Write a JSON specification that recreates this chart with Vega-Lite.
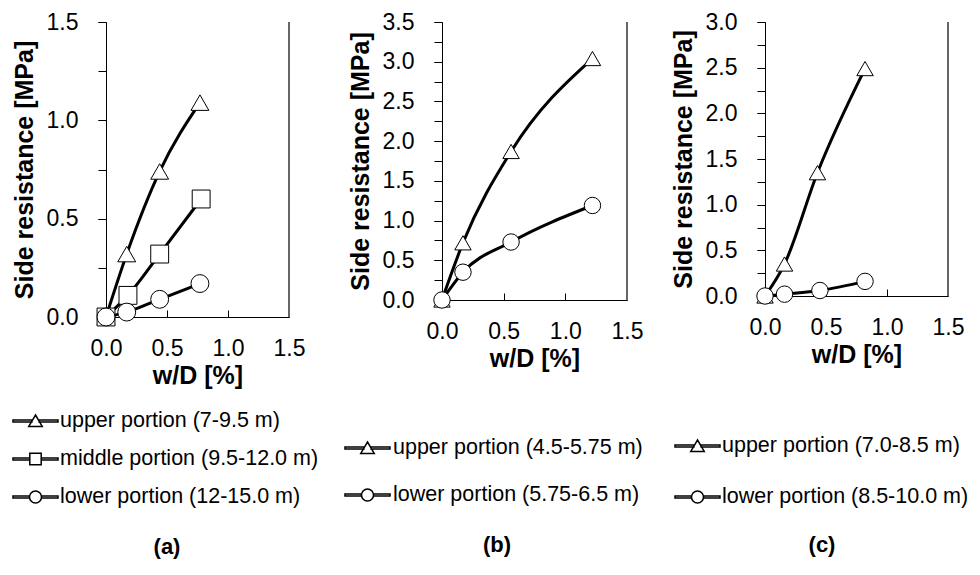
{
  "$schema": "https://vega.github.io/schema/vega-lite/v6.json",
  "background": "white",
  "padding": {"left": 12, "top": 11, "right": 5, "bottom": 5},
  "datasets": {
    "d": [
      {"panel": "a", "series": "upper portion (7-9.5 m)", "x": 0, "y": 0},
      {"panel": "a", "series": "upper portion (7-9.5 m)", "x": 0.17, "y": 0.32},
      {"panel": "a", "series": "upper portion (7-9.5 m)", "x": 0.44, "y": 0.74},
      {"panel": "a", "series": "upper portion (7-9.5 m)", "x": 0.77, "y": 1.09},
      {"panel": "a", "series": "middle portion (9.5-12.0 m)", "x": 0, "y": 0},
      {"panel": "a", "series": "middle portion (9.5-12.0 m)", "x": 0.18, "y": 0.11},
      {"panel": "a", "series": "middle portion (9.5-12.0 m)", "x": 0.44, "y": 0.32},
      {"panel": "a", "series": "middle portion (9.5-12.0 m)", "x": 0.78, "y": 0.6},
      {"panel": "a", "series": "lower portion (12-15.0 m)", "x": 0, "y": 0},
      {"panel": "a", "series": "lower portion (12-15.0 m)", "x": 0.17, "y": 0.025},
      {"panel": "a", "series": "lower portion (12-15.0 m)", "x": 0.44, "y": 0.09},
      {"panel": "a", "series": "lower portion (12-15.0 m)", "x": 0.77, "y": 0.17},
      {"panel": "b", "series": "upper portion (4.5-5.75 m)", "x": 0, "y": 0},
      {"panel": "b", "series": "upper portion (4.5-5.75 m)", "x": 0.17, "y": 0.72},
      {"panel": "b", "series": "upper portion (4.5-5.75 m)", "x": 0.56, "y": 1.87},
      {"panel": "b", "series": "upper portion (4.5-5.75 m)", "x": 1.22, "y": 3.04},
      {"panel": "b", "series": "lower portion (5.75-6.5 m)", "x": 0, "y": 0},
      {"panel": "b", "series": "lower portion (5.75-6.5 m)", "x": 0.17, "y": 0.35},
      {"panel": "b", "series": "lower portion (5.75-6.5 m)", "x": 0.56, "y": 0.73},
      {"panel": "b", "series": "lower portion (5.75-6.5 m)", "x": 1.22, "y": 1.19},
      {"panel": "c", "series": "upper portion (7.0-8.5 m)", "x": 0, "y": 0},
      {"panel": "c", "series": "upper portion (7.0-8.5 m)", "x": 0.16, "y": 0.35},
      {"panel": "c", "series": "upper portion (7.0-8.5 m)", "x": 0.43, "y": 1.35},
      {"panel": "c", "series": "upper portion (7.0-8.5 m)", "x": 0.82, "y": 2.49},
      {"panel": "c", "series": "lower portion (8.5-10.0 m)", "x": 0, "y": 0},
      {"panel": "c", "series": "lower portion (8.5-10.0 m)", "x": 0.16, "y": 0.02},
      {"panel": "c", "series": "lower portion (8.5-10.0 m)", "x": 0.45, "y": 0.06},
      {"panel": "c", "series": "lower portion (8.5-10.0 m)", "x": 0.82, "y": 0.16}
    ]
  },
  "spacing": 153,
  "bounds": "flush",
  "hconcat": [
    {
      "width": 183,
      "height": 295,
      "data": {"name": "d"},
      "transform": [{"filter": "datum.panel === 'a'"}],
      "title": {"text": "(a)", "orient": "bottom", "anchor": "middle", "frame": "group", "fontSize": 22, "fontWeight": "bold", "font": "Liberation Sans", "color": "black", "offset": 29, "dx": -30.5, "baseline": "top"},
      "resolve": {"scale": {"shape": "independent"}, "axis": {"y": "independent"}},
      "layer": [
        {
          "mark": {"type": "rule", "color": "#666666", "strokeWidth": 1},
          "encoding": {"x": {"datum": 1.5, "type": "quantitative"}}
        },
        {
          "mark": {"type": "line", "color": "black", "strokeWidth": 3, "interpolate": "monotone"},
          "encoding": {
            "x": {"field": "x", "type": "quantitative", "scale": {"domain": [0, 1.5], "nice": false},
              "axis": {"title": "w/D [%]", "values": [0, 0.25, 0.5, 0.75, 1, 1.25, 1.5], "labelExpr": "datum.value % 0.5 === 0 ? format(datum.value, '.1f') : ''", "labelFlush": false, "labelOverlap": false, "tickSize": -7, "labelPadding": 27, "titlePadding": 3}},
            "y": {"field": "y", "type": "quantitative", "scale": {"domain": [0, 1.5], "nice": false},
              "axis": {"title": "Side resistance [MPa]", "orient": "left", "values": [0, 0.5, 1, 1.5], "format": ".1f", "labelOverlap": false, "tickSize": 8, "labelPadding": 20, "titlePadding": 9}},
            "detail": {"field": "series"}
          }
        },
        {
          "mark": {"type": "point", "filled": true, "fill": "white", "stroke": "black", "strokeWidth": 1, "opacity": 1, "size": 320},
          "encoding": {
            "x": {"field": "x", "type": "quantitative"},
            "y": {"field": "y", "type": "quantitative",
              "axis": {"title": null, "orient": "left", "values": [0, 0.25, 0.5, 0.75, 1, 1.25, 1.5], "labels": false, "domain": false, "tickSize": 8}},
            "shape": {"field": "series", "type": "nominal", "legend": null,
              "scale": {"domain": ["upper portion (7-9.5 m)", "middle portion (9.5-12.0 m)", "lower portion (12-15.0 m)"], "range": ["triangle-up", "square", "circle"]}}
          }
        },
        {
          "mark": {"type": "point", "filled": true, "fill": "white", "stroke": "black", "strokeWidth": 1.2, "opacity": 1, "size": 0},
          "encoding": {
            "shape": {"field": "series", "type": "nominal",
              "scale": {"domain": ["upper portion (7-9.5 m)", "middle portion (9.5-12.0 m)", "lower portion (12-15.0 m)"],
                "range": ["M-1.5,-0.06H-0.24V0.06H-1.5Z M0.24,-0.06H1.5V0.06H0.24Z M0,-0.4L0.45,0.36L-0.45,0.36Z", "M-1.5,-0.06H-0.38V0.06H-1.5Z M0.38,-0.06H1.5V0.06H0.38Z M-0.38,-0.38H0.38V0.38H-0.38Z", "M-1.5,-0.06H-0.4V0.06H-1.5Z M0.4,-0.06H1.5V0.06H0.4Z M0.4,0A0.4,0.4,0,1,1,-0.4,0A0.4,0.4,0,1,1,0.4,0Z"]},
              "legend": {"title": null, "orient": "none", "legendX": -86.5, "legendY": 383, "padding": 0, "rowPadding": 11, "symbolSize": 900, "labelOffset": 8.5, "labelFont": "Liberation Sans", "labelFontSize": 21.5, "labelColor": "black", "labelLimit": 400}}
          }
        }
      ]
    },
    {
      "spacing": 138,
      "bounds": "flush",
      "hconcat": [
        {
          "width": 185,
          "height": 278,
          "data": {"name": "d"},
          "transform": [{"filter": "datum.panel === 'b'"}],
          "title": {"text": "(b)", "orient": "bottom", "anchor": "middle", "frame": "group", "fontSize": 22, "fontWeight": "bold", "font": "Liberation Sans", "color": "black", "offset": 29, "dx": -37.5, "baseline": "top"},
          "resolve": {"scale": {"shape": "independent"}, "axis": {"y": "independent"}},
          "layer": [
            {
              "mark": {"type": "rule", "color": "#666666", "strokeWidth": 1},
              "encoding": {"x": {"datum": 1.5, "type": "quantitative"}}
            },
            {
              "mark": {"type": "line", "color": "black", "strokeWidth": 3, "interpolate": "monotone"},
              "encoding": {
                "x": {"field": "x", "type": "quantitative", "scale": {"domain": [0, 1.5], "nice": false},
                  "axis": {"title": "w/D [%]", "values": [0, 0.25, 0.5, 0.75, 1, 1.25, 1.5], "labelExpr": "datum.value % 0.5 === 0 ? format(datum.value, '.1f') : ''", "labelFlush": false, "labelOverlap": false, "tickSize": -7, "labelPadding": 27, "titlePadding": 3}},
                "y": {"field": "y", "type": "quantitative", "scale": {"domain": [0, 3.5], "nice": false},
                  "axis": {"title": "Side resistance [MPa]", "orient": "left", "values": [0, 0.5, 1, 1.5, 2, 2.5, 3, 3.5], "format": ".1f", "labelOverlap": false, "tickSize": 8, "labelPadding": 20, "titlePadding": 9}},
                "detail": {"field": "series"}
              }
            },
            {
              "mark": {"type": "point", "filled": true, "fill": "white", "stroke": "black", "strokeWidth": 1, "opacity": 1, "size": 270},
              "encoding": {
                "x": {"field": "x", "type": "quantitative"},
                "y": {"field": "y", "type": "quantitative",
                  "axis": {"title": null, "orient": "left", "values": [0, 0.25, 0.5, 0.75, 1, 1.25, 1.5, 1.75, 2, 2.25, 2.5, 2.75, 3, 3.25, 3.5], "labels": false, "domain": false, "tickSize": 8}},
                "shape": {"field": "series", "type": "nominal", "legend": null,
                  "scale": {"domain": ["upper portion (4.5-5.75 m)", "lower portion (5.75-6.5 m)"], "range": ["triangle-up", "circle"]}}
              }
            },
            {
              "mark": {"type": "point", "filled": true, "fill": "white", "stroke": "black", "strokeWidth": 1.2, "opacity": 1, "size": 0},
              "encoding": {
                "shape": {"field": "series", "type": "nominal",
                  "scale": {"domain": ["upper portion (4.5-5.75 m)", "lower portion (5.75-6.5 m)"],
                    "range": ["M-1.5,-0.06H-0.24V0.06H-1.5Z M0.24,-0.06H1.5V0.06H0.24Z M0,-0.4L0.45,0.36L-0.45,0.36Z", "M-1.5,-0.06H-0.4V0.06H-1.5Z M0.4,-0.06H1.5V0.06H0.4Z M0.4,0A0.4,0.4,0,1,1,-0.4,0A0.4,0.4,0,1,1,0.4,0Z"]},
                  "legend": {"title": null, "orient": "none", "legendX": -90.5, "legendY": 410, "padding": 0, "rowPadding": 20, "symbolSize": 900, "labelOffset": 9.5, "labelFont": "Liberation Sans", "labelFontSize": 21.5, "labelColor": "black", "labelLimit": 400}}
              }
            }
          ]
        },
        {
          "width": 183,
          "height": 274,
          "data": {"name": "d"},
          "transform": [{"filter": "datum.panel === 'c'"}],
          "title": {"text": "(c)", "orient": "bottom", "anchor": "middle", "frame": "group", "fontSize": 22, "fontWeight": "bold", "font": "Liberation Sans", "color": "black", "offset": 27, "dx": -34.5, "baseline": "top"},
          "resolve": {"scale": {"shape": "independent"}, "axis": {"y": "independent"}},
          "layer": [
            {
              "mark": {"type": "rule", "color": "#666666", "strokeWidth": 1},
              "encoding": {"x": {"datum": 1.5, "type": "quantitative"}}
            },
            {
              "mark": {"type": "line", "color": "black", "strokeWidth": 3, "interpolate": "monotone"},
              "encoding": {
                "x": {"field": "x", "type": "quantitative", "scale": {"domain": [0, 1.5], "nice": false},
                  "axis": {"title": "w/D [%]", "values": [0, 0.25, 0.5, 0.75, 1, 1.25, 1.5], "labelExpr": "datum.value % 0.5 === 0 ? format(datum.value, '.1f') : ''", "labelFlush": false, "labelOverlap": false, "tickSize": -7, "labelPadding": 27, "titlePadding": 3}},
                "y": {"field": "y", "type": "quantitative", "scale": {"domain": [0, 3], "nice": false},
                  "axis": {"title": "Side resistance [MPa]", "orient": "left", "values": [0, 0.5, 1, 1.5, 2, 2.5, 3], "format": ".1f", "labelOverlap": false, "tickSize": 8, "labelPadding": 20, "titlePadding": 9}},
                "detail": {"field": "series"}
              }
            },
            {
              "mark": {"type": "point", "filled": true, "fill": "white", "stroke": "black", "strokeWidth": 1, "opacity": 1, "size": 270},
              "encoding": {
                "x": {"field": "x", "type": "quantitative"},
                "y": {"field": "y", "type": "quantitative",
                  "axis": {"title": null, "orient": "left", "values": [0, 0.25, 0.5, 0.75, 1, 1.25, 1.5, 1.75, 2, 2.25, 2.5, 2.75, 3], "labels": false, "domain": false, "tickSize": 8}},
                "shape": {"field": "series", "type": "nominal", "legend": null,
                  "scale": {"domain": ["upper portion (7.0-8.5 m)", "lower portion (8.5-10.0 m)"], "range": ["triangle-up", "circle"]}}
              }
            },
            {
              "mark": {"type": "point", "filled": true, "fill": "white", "stroke": "black", "strokeWidth": 1.2, "opacity": 1, "size": 0},
              "encoding": {
                "shape": {"field": "series", "type": "nominal",
                  "scale": {"domain": ["upper portion (7.0-8.5 m)", "lower portion (8.5-10.0 m)"],
                    "range": ["M-1.5,-0.06H-0.24V0.06H-1.5Z M0.24,-0.06H1.5V0.06H0.24Z M0,-0.4L0.45,0.36L-0.45,0.36Z", "M-1.5,-0.06H-0.4V0.06H-1.5Z M0.4,-0.06H1.5V0.06H0.4Z M0.4,0A0.4,0.4,0,1,1,-0.4,0A0.4,0.4,0,1,1,0.4,0Z"]},
                  "legend": {"title": null, "orient": "none", "legendX": -83.5, "legendY": 408, "padding": 0, "rowPadding": 24, "symbolSize": 900, "labelOffset": 8.5, "labelFont": "Liberation Sans", "labelFontSize": 21.5, "labelColor": "black", "labelLimit": 400}}
              }
            }
          ]
        }
      ]
    }
  ],
  "config": {
    "view": {"stroke": null},
    "axis": {"grid": false, "domainColor": "black", "domainWidth": 1, "tickColor": "black", "tickWidth": 1, "labelFont": "Liberation Sans", "labelFontSize": 23, "labelColor": "black", "titleFont": "Liberation Sans", "titleFontSize": 25, "titleFontWeight": "bold", "titleColor": "black"}
  }
}
